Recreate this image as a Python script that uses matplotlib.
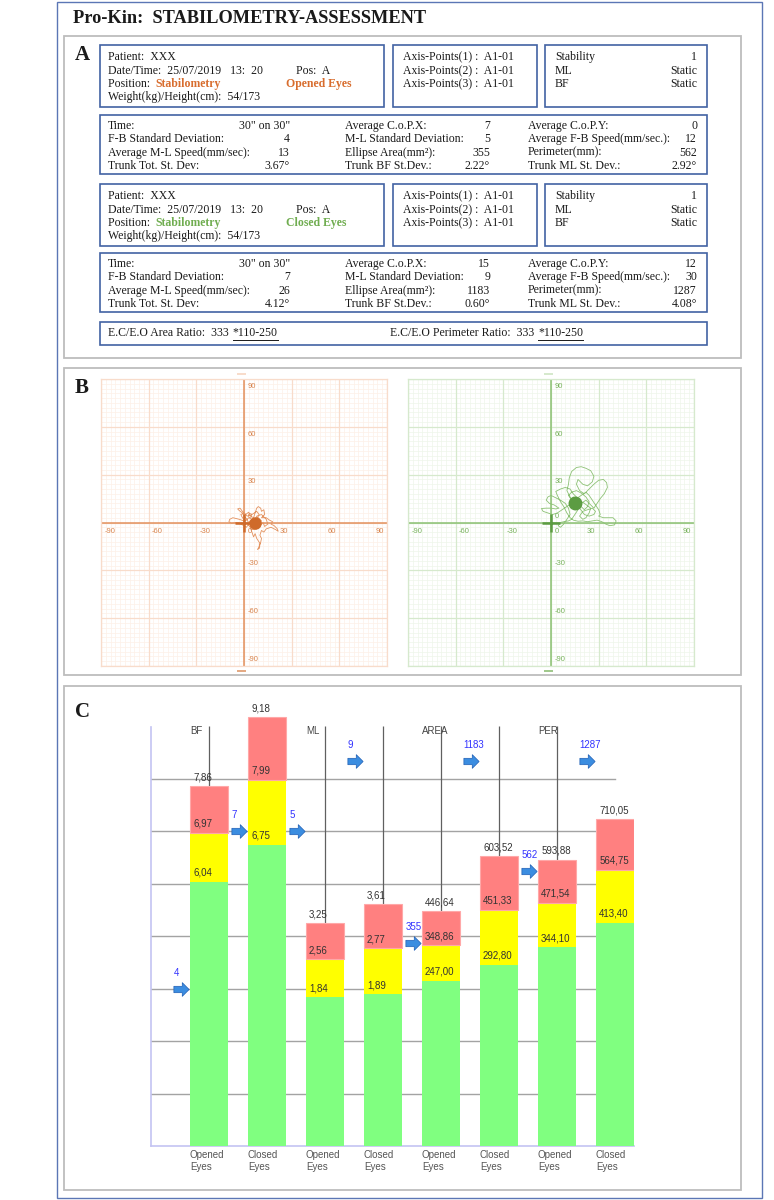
import matplotlib
matplotlib.use('Agg')
import matplotlib.pyplot as plt
from matplotlib.patches import Rectangle
from matplotlib.path import Path
import matplotlib.transforms as mtransforms
import numpy as np

# ---------------- DATA ----------------
title = "Pro-Kin:  STABILOMETRY-ASSESSMENT"
patient = "XXX"
date_time = "25/07/2019   13:  20"
pos = "A"
weight_height = "54/173"
axis_points = ["A1-01", "A1-01", "A1-01"]
stability_labels = ["Stability", "ML", "BF"]
stability_values = ["1", "Static", "Static"]

stat_labels_col1 = ["Time:", "F-B Standard Deviation:", "Average M-L Speed(mm/sec):", "Trunk Tot. St. Dev:"]
stat_labels_col2 = ["Average C.o.P.X:", "M-L Standard Deviation:", "Ellipse Area(mm²):", "Trunk BF St.Dev.:"]
stat_labels_col3 = ["Average C.o.P.Y:", "Average F-B Speed(mm/sec.):", "Perimeter(mm):", "Trunk ML St. Dev.:"]
eo_col1 = ['30" on 30"', '4', '13', '3.67°']
eo_col2 = ['7', '5', '355', '2.22°']
eo_col3 = ['0', '12', '562', '2.92°']
ec_col1 = ['30" on 30"', '7', '26', '4.12°']
ec_col2 = ['15', '9', '1183', '0.60°']
ec_col3 = ['12', '30', '1287', '4.08°']
area_ratio = "333"
perimeter_ratio = "333"
ratio_range = "*110-250"

# centre of pressure (mean) for each condition
eo_cop = (7, 0)
ec_cop = (15, 12)

# hand-traced sway paths (mm)
eo_path_x = [0, -3, -7, -9, -9.5, -8, -5, -2, 0, 1.5, 3, 2, 0, -1, -3, -4, -2.5, -1, 1, 3, 4, 6, 7, 8, 9,
             10.5, 11, 12.5, 13, 11, 14, 16, 18, 17, 19, 21, 21.5, 20, 17, 14, 12.5, 11, 10, 11, 10.5, 9.5,
             8.5, 9.8, 10, 8, 7, 6, 5, 4, 6, 9, 11, 9, 6, 4, 2, 5, 8, 10, 12, 13, 15, 14, 11, 8, 7, 8, 5, 3,
             1, -1, -2, 0, 2, 5, 8, 9.5, 8]
eo_path_y = [1, 2, 3, 2, 0.5, -0.5, 0, -1, -2, -3, -1, 2, 4, 6, 7.5, 8.5, 9, 7, 5, 6.5, 4, 3, 6, 9, 10,
             9, 7, 8, 5, 3, 3, 1.5, 0.5, -1, -2, -4, -5.5, -4.5, -3, -4, -6, -5, -8, -10, -12.5, -15,
             -17, -16, -13, -10, -7, -9, -6, -3.5, -2, -1, 1, 3, 1.5, 1, -0.5, -4.5, -4, -2, 0, -2.5, -1, 2, 5, 4, 1, -1, 2, 3,
             1, 3, 5, 6, 4, 5, 7, 5, 2]
ec_path_x = [15, 12, 10, 11, 11.5, 13, 16, 19, 22, 25, 27, 26, 23, 20, 17, 16, 18, 21, 24, 27, 30, 33, 35,
             35.5, 33.5, 31, 29, 27, 25, 22, 19, 17, 15, 13, 11, 8, 6, 4.5, 6, 8, 10, 12, 11, 9, 6, 3, 0,
             -2, -3, -1, 2, 5, 3, 0, -3, -6, -5, -2, 1, 4, 7, 10, 13, 16, 19, 22, 24, 26, 28, 30, 31, 30,
             33, 36, 39, 41, 40, 37, 34.5, 32, 29, 26, 23, 20, 17, 14, 12, 10, 8, 6, 4, 3, 6, 9, 12, 14,
             16, 17, 19, 21, 23, 24, 22, 19, 16, 13, 11, 13, 15, 18, 21, 24, 27, 28, 26, 23, 20, 18, 20,
             22, 24, 25, 21, 17, 14, 12, 15]
ec_path_y = [12, 16, 20, 24, 28, 32, 34.5, 35, 34, 32.5, 29, 25.5, 23, 24, 27, 24, 20, 18, 21, 24, 26.5,
             27, 25, 22, 18, 15, 12, 9, 11, 14, 12, 8, 5, 2, 1, 0.5, 0, -2, -3, -1, 2, 5, 9, 12, 14,
             15.5, 17, 16, 14, 12, 11, 9, 8.5, 9, 9, 8.8, 7, 6, 5, 6, 8, 10, 12, 15, 17, 19, 17, 14, 11,
             8, 5, 4, 3, 3, 3, 1, -1.5, -2, -1, 0.5, 1.5, 1, 0.5, 1, 0.8, 1.5, 3, 6, 10, 13, 17, 19.5,
             21, 22, 21, 18, 16, 13, 10, 8, 10, 13, 16, 18.5, 20, 19, 17, 14, 11, 9, 5, 4, 5, 7, 9, 8,
             7, 4, 2, 3, 6, 9, 12, 14, 16, 14, 12]

# chart C
groups = ["BF", "ML", "AREA", "PER"]
conditions = ["Opened\nEyes", "Closed\nEyes"] * 4
bar_totals = [7.86, 9.18, 3.25, 3.61, 446.64, 603.52, 593.88, 710.05]
red_lower = [6.97, 7.99, 2.56, 2.77, 348.86, 451.33, 471.54, 564.75]
yellow_lower = [6.04, 6.75, 1.84, 1.89, 247.00, 292.80, 344.10, 413.40]
patient_values = [4, 7, 5, 9, 355, 1183, 562, 1287]

# ---------------- FIGURE ----------------
W, H = 774, 1200
fig = plt.figure(figsize=(7.74, 12), dpi=100)
fig.patch.set_facecolor('white')
SERIF = ['Liberation Serif', 'DejaVu Serif']
SANS = ['Liberation Sans', 'DejaVu Sans']


def fx(x):
    return x / W


def fy(y):
    return 1 - y / H


def box(x0, y0, x1, y1, ec, lw=1.0):
    fig.add_artist(Rectangle((fx(x0), fy(y1)), (x1 - x0) / W, (y1 - y0) / H,
                             transform=fig.transFigure, fill=False, edgecolor=ec, linewidth=lw))


def T(x, y, s, size=8.5, ha='left', va='baseline', color='#1a1a1a', weight='normal', family=SERIF):
    # y is the visual centre of a text line; convert to baseline
    if va == 'baseline':
        y = y + size * 0.36
    return fig.text(fx(x), fy(y), s, fontsize=size, ha=ha, va=va, color=color,
                    fontweight=weight, family=family)


BLUE_BOX = '#4262a3'
GRAY_BOX = '#bdbdbd'

# outer frame + title
box(57, 2, 762, 1198, '#5b76b5', 1.0)
T(73, 18, title, size=13.2, weight='bold')

# ---------------- PANEL A ----------------
box(64, 36, 741, 358, GRAY_BOX, 1.3)
T(75, 55, "A", size=15, weight='bold')


def header_block(y0, cond_text, cond_color):
    box(100, y0, 384, y0 + 62, BLUE_BOX, 1.2)
    box(393, y0, 537, y0 + 62, BLUE_BOX, 1.2)
    box(545, y0, 707, y0 + 62, BLUE_BOX, 1.2)
    r = [y0 + 12, y0 + 26, y0 + 39, y0 + 52]
    T(108, r[0], "Patient:  " + patient)
    T(108, r[1], "Date/Time:  " + date_time)
    T(296, r[1], "Pos:  " + pos)
    T(108, r[2], "Position:  ")
    T(155, r[2], "Stabilometry", color=cond_color, weight='bold')
    T(286, r[2], cond_text, color=cond_color, weight='bold')
    T(108, r[3], "Weight(kg)/Height(cm):  " + weight_height)
    for k in range(3):
        T(403, r[k], f"Axis-Points({k + 1}) :  {axis_points[k]}")
        T(555, r[k], stability_labels[k])
        T(697, r[k], stability_values[k], ha='right')


def stats_block(y0, c1, c2, c3):
    box(100, y0, 707, y0 + 59, BLUE_BOX, 1.2)
    for k in range(4):
        yy = y0 + 11 + k * 13.3
        T(108, yy, stat_labels_col1[k])
        T(290, yy, c1[k], ha='right')
        T(345, yy, stat_labels_col2[k])
        T(490, yy, c2[k], ha='right')
        T(528, yy, stat_labels_col3[k])
        T(697, yy, c3[k], ha='right')


header_block(45, "Opened Eyes", '#d86d2e')
stats_block(115, eo_col1, eo_col2, eo_col3)
header_block(184, "Closed Eyes", '#70ad50')
stats_block(253, ec_col1, ec_col2, ec_col3)

box(100, 322, 707, 345, BLUE_BOX, 1.2)
a1 = T(108, 333, "E.C/E.O Area Ratio:  " + area_ratio)
a2 = T(390, 333, "E.C/E.O Perimeter Ratio:  " + perimeter_ratio)

# ---------------- PANEL B ----------------
box(64, 368, 741, 675, GRAY_BOX, 1.3)
T(75, 388, "B", size=15, weight='bold')


def stabilogram(x0, y0, x1, y1, px, py, cop, main, major, minor, lab, dotc, ms):
    ax = fig.add_axes([fx(x0), fy(y1), (x1 - x0) / W, (y1 - y0) / H])
    ax.set_xlim(-90, 90)
    ax.set_ylim(-90, 90)
    for v in range(-90, 91, 3):
        if v % 30:
            ax.axvline(v, color=minor, lw=0.5, zorder=0)
            ax.axhline(v, color=minor, lw=0.5, zorder=0)
    for v in range(-90, 91, 30):
        ax.axvline(v, color=major, lw=0.9, zorder=0.5)
        ax.axhline(v, color=major, lw=0.9, zorder=0.5)
    ax.axvline(0, color=main, lw=1.1, zorder=1)
    ax.axhline(0, color=main, lw=1.1, zorder=1)
    ax.plot(px, py, color=main, lw=0.6, zorder=2)
    ax.plot(0, 0, marker='+', ms=13, mew=1.8, color=dotc, zorder=3)
    ax.plot(cop[0], cop[1], 'o', ms=ms, color=dotc, zorder=4)
    for v in [-90, -60, -30, 30, 60, 90]:
        ax.text(v + 2 if v < 0 else v - 2, -5.5, str(v), ha='left' if v < 0 else 'right',
                va='center', fontsize=5.5, color=lab, family=SANS)
        ax.text(2.5, v - 4.5 if v > 0 else v + 4, str(v), ha='left', va='center',
                fontsize=5.5, color=lab, family=SANS)
    ax.text(2.5, 3.5, "0", ha='left', va='center', fontsize=5.5, color=lab, family=SANS)
    ax.text(2.5, -5.5, "0", ha='left', va='center', fontsize=5.5, color=lab, family=SANS)
    ax.set_xticks([])
    ax.set_yticks([])
    for s in ax.spines.values():
        s.set_color(major)
        s.set_linewidth(0.9)
    # small marks above and below the plot
    cx = (x0 + x1) / 2 - 2
    fig.add_artist(Rectangle((fx(cx - 5), fy(375)), 9 / W, 2 / H, transform=fig.transFigure,
                             color=major, lw=0))
    fig.add_artist(Rectangle((fx(cx - 5), fy(672)), 9 / W, 2 / H, transform=fig.transFigure,
                             color=lab, lw=0, alpha=0.7))


stabilogram(101, 379, 387, 666, eo_path_x, eo_path_y, eo_cop,
            '#e3925f', '#f8dccb', '#fdf0e8', '#d98650', '#cf6a2a', 8)
stabilogram(408, 379, 694, 666, ec_path_x, ec_path_y, ec_cop,
            '#8cc174', '#d6e9cd', '#eef6ea', '#79b35d', '#5c9c42', 9)

# ---------------- PANEL C ----------------
box(64, 686, 741, 1190, GRAY_BOX, 1.3)
T(75, 712, "C", size=15, weight='bold')

CX0, CX1, CY0, CY1 = 151, 634, 700, 1146
rect = [fx(CX0), fy(CY1), (CX1 - CX0) / W, (CY1 - CY0) / H]
xlim = ((CX0 - 209) / 58, (CX1 - 209) / 58)
bw = 38 / 58
group_ylim = {"BF": (1.0, 9.507), "ML": (-1.0, 7.507), "AREA": (-225, 1051), "PER": (-225, 1051)}

base = fig.add_axes(rect)
base.set_xlim(*xlim)
base.set_ylim(*group_ylim["BF"])
base.axis('off')
trans_b = mtransforms.blended_transform_factory(base.transData, base.transAxes)
for v in range(2, 9):
    base.plot([xlim[0], 7], [v, v], color='#a3a3a3', lw=1.0, zorder=0.5)
base.vlines(range(7), 0, 0.9417, transform=trans_b, color='#606060', lw=0.9, zorder=0.6)
base.plot([0, 0], [0, 0.94], transform=base.transAxes, color='#c4c4f2', lw=1.2,
          zorder=0.7, clip_on=False)
base.plot([0, 1], [0, 0], transform=base.transAxes, color='#c4c4f2', lw=1.2, zorder=0.7,
          clip_on=False)

arrow_path = Path([(-1, -0.42), (0.1, -0.42), (0.1, -0.9), (1, 0), (0.1, 0.9), (0.1, 0.42),
                   (-1, 0.42), (-1, -0.42)],
                  [Path.MOVETO] + [Path.LINETO] * 6 + [Path.CLOSEPOLY])


def fmt(v):
    return f"{v:.2f}".replace('.', ',')


for g, name in enumerate(groups):
    ax = base if g == 0 else fig.add_axes(rect)
    if g:
        ax.set_xlim(*xlim)
        ax.set_ylim(*group_ylim[name])
        ax.axis('off')
        ax.patch.set_alpha(0)
    lo, hi = group_ylim[name]
    cap = lo + 0.863 * (hi - lo)
    tr = mtransforms.blended_transform_factory(ax.transData, ax.transAxes)
    ax.text(2 * g - bw / 2, 0.93, name, transform=tr, ha='left', va='center', fontsize=7,
            color='#444444', family=SANS)
    for i in (2 * g, 2 * g + 1):
        ax.bar(i, yellow_lower[i] - lo, bottom=lo, width=bw, color='#80ff80', zorder=2)
        ax.bar(i, red_lower[i] - yellow_lower[i], bottom=yellow_lower[i], width=bw,
               color='#ffff00', zorder=2)
        ax.bar(i, bar_totals[i] - red_lower[i], bottom=red_lower[i], width=bw,
               color='#ff8080', edgecolor='#ffa8a8', lw=0.8, zorder=2)
        for v in (yellow_lower[i], red_lower[i], bar_totals[i]):
            ax.annotate(fmt(v), (i - bw / 2, v), xytext=(2.2, 6.5), textcoords='offset points',
                        ha='left', va='center', fontsize=7, color='#333333', family=SANS,
                        zorder=5)
        ax.text(i - bw / 2, -0.01, conditions[i], transform=tr, ha='left', va='top',
                fontsize=7, color='#555555', family=SANS, linespacing=1.15)
        av = min(patient_values[i], cap)
        ax.scatter([i - 0.483], [av], marker=arrow_path, s=120, color='#3b8de0',
                   edgecolors='#1f5fb5', linewidths=0.5, zorder=6, clip_on=False)
        ax.annotate(str(patient_values[i]), (i - 0.483, av), xytext=(-5.5, 11.5),
                    textcoords='offset points', ha='left', va='center', fontsize=7,
                    color='#3333ff', family=SANS, zorder=6)

# reference ranges, placed after the ratio texts and underlined
fig.canvas.draw()
rend = fig.canvas.get_renderer()
for t in (a1, a2):
    bb = t.get_window_extent(rend)
    xs = bb.x1 + 4
    ut = fig.text(xs / W, t.get_position()[1], ratio_range, fontsize=8.5, ha='left',
                  va='baseline', color='#1a1a1a', family=SERIF)
    ub = ut.get_window_extent(rend)
    yl = ub.y0 - 0.5
    fig.add_artist(plt.Line2D([ub.x0 / W, ub.x1 / W], [yl / H, yl / H], transform=fig.transFigure,
                              color='#1a1a1a', lw=0.7))

fig.savefig('out.png', dpi=100, facecolor='white')
